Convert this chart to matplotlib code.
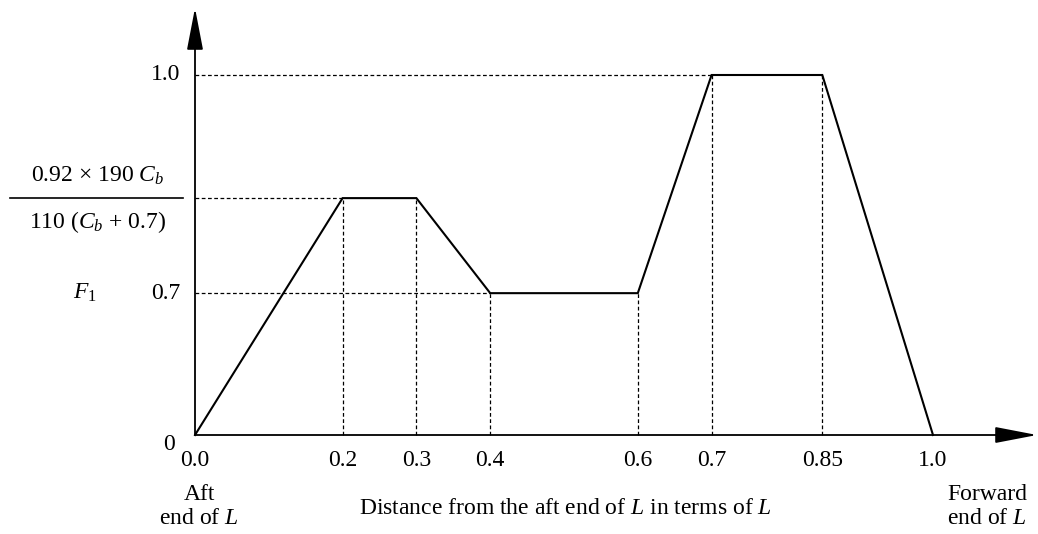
#! /usr/bin/env python3
#
# F1 distribution along the length L (schematic diagram)
#
import matplotlib as mpl
mpl.use('Agg')
import matplotlib.pyplot as plt

plt.rcParams['font.family'] = ['Liberation Serif', 'DejaVu Serif']
plt.rcParams['mathtext.fontset'] = 'custom'
plt.rcParams['mathtext.rm'] = 'Liberation Serif'
plt.rcParams['mathtext.it'] = 'Liberation Serif:italic'

# x positions along L and the drawn height of the curve (diagram is not to scale)
x_pts = [0.0, 0.2, 0.3, 0.4, 0.6, 0.7, 0.85, 1.0]
y_pts = [0.0, 0.658, 0.658, 0.394, 0.394, 1.0, 1.0, 0.0]
x_ticks = [0.0, 0.2, 0.3, 0.4, 0.6, 0.7, 0.85, 1.0]
x_ticklabels = ['0.0', '0.2', '0.3', '0.4', '0.6', '0.7', '0.85', '1.0']
# horizontal guide levels: (drawn height, right end x)
levels = [(1.0, 0.7), (0.658, 0.2), (0.394, 0.4)]

fig = plt.figure(figsize=(10.38, 5.34), dpi=100)
ax = fig.add_axes([0, 0, 1, 1])
ax.set_xlim(-195 / 738, (1038 - 195) / 738)
ax.set_ylim((435 - 534) / 360, 435 / 360)
ax.axis('off')

# axes with arrows
ax.annotate('', xy=(842 / 738, 0), xytext=(0, 0),
            arrowprops=dict(arrowstyle='-|>,head_length=2.6,head_width=0.5',
                            mutation_scale=10, color='black', lw=1.3,
                            shrinkA=0, shrinkB=0))
ax.annotate('', xy=(0, 427 / 360), xytext=(0, 0),
            arrowprops=dict(arrowstyle='-|>,head_length=2.6,head_width=0.5',
                            mutation_scale=10, color='black', lw=1.3,
                            shrinkA=0, shrinkB=0))

# dashed guides
dash = dict(color='black', lw=0.9, ls=(0, (3, 2)))
for lev, xe in levels:
    ax.plot([0, xe], [lev, lev], **dash)
for xv, yv in zip(x_pts[1:-1], y_pts[1:-1]):
    ax.plot([xv, xv], [0, yv], **dash)

# the curve
ax.plot(x_pts, y_pts, color='black', lw=1.5, solid_joinstyle='miter')

fs = 17
for xv, lab in zip(x_ticks, x_ticklabels):
    ax.text(xv, -26 / 360, lab, ha='center', va='center', fontsize=fs)

ax.text(-15 / 738, 1.0, '1.0', ha='right', va='center', fontsize=fs)
ax.text(-15 / 738, 0.394, '0.7', ha='right', va='center', fontsize=fs)
ax.text(-110 / 738, 0.394, '$F_1$', ha='center', va='center', fontsize=fs)
ax.text(-20 / 738, -9 / 360, '0', ha='right', va='center', fontsize=fs)

# fraction label
ax.text(-97 / 738, 0.658 + 22 / 360, r'0.92 × 190 $C_b$', ha='center', va='center', fontsize=fs)
ax.plot([-185 / 738, -12 / 738], [0.658, 0.658], color='black', lw=1.2)
ax.text(-97 / 738, 0.658 - 24 / 360, r'110 ($C_b$ + 0.7)', ha='center', va='center', fontsize=fs)

ax.text(4 / 738, -59 / 360, 'Aft', ha='center', va='center', fontsize=fs)
ax.text(4 / 738, -83 / 360, 'end of $L$', ha='center', va='center', fontsize=fs)
ax.text(370 / 738, -74 / 360, 'Distance from the aft end of $L$ in terms of $L$',
        ha='center', va='center', fontsize=fs)
ax.text(792 / 738, -60 / 360, 'Forward', ha='center', va='center', fontsize=fs)
ax.text(792 / 738, -83 / 360, 'end of $L$', ha='center', va='center', fontsize=fs)

plt.savefig('out.png', dpi=100)
